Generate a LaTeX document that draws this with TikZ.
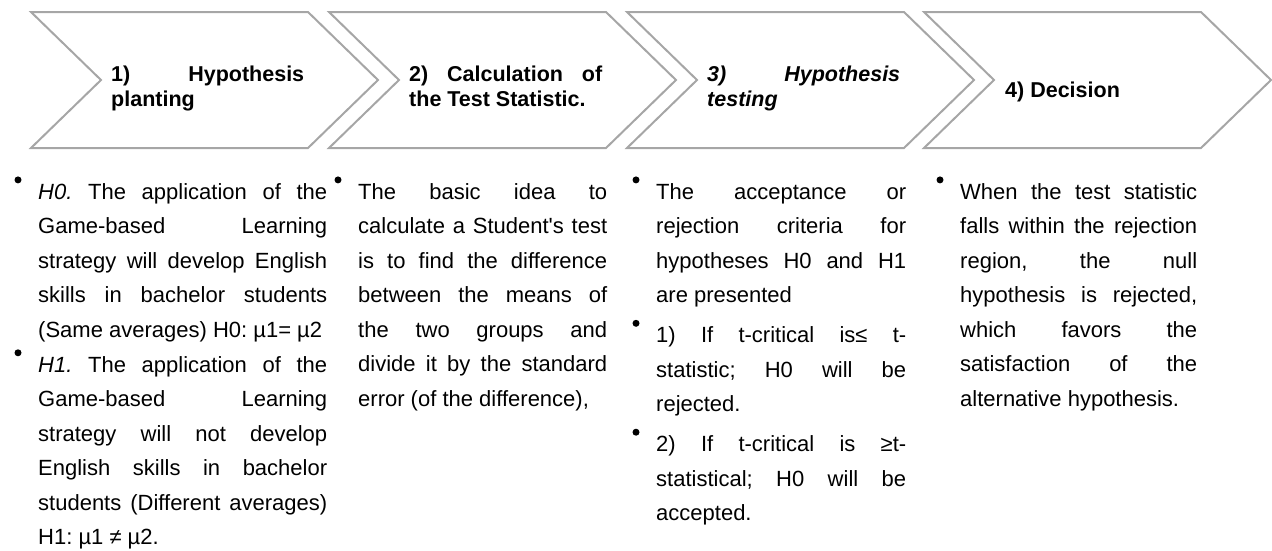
\documentclass[tikz,border=0pt]{standalone}
\usepackage{fontspec}
\setmainfont{Liberation Sans}
\usetikzlibrary{positioning}
\tolerance=10000 \hyphenpenalty=10000 \exhyphenpenalty=10000 \hbadness=10000
\frenchspacing
\definecolor{chevgray}{HTML}{A6A6A6}
\tikzset{
  chev/.style={draw=chevgray, line width=2pt, line join=miter},
  head/.style={anchor=north west, inner sep=0pt, text width=193pt, align=justify,
    font=\fontsize{21.5}{25}\selectfont\bfseries},
  body/.style={anchor=north west, inner sep=0pt, text width=#1, align=justify,
    font=\fontsize{22}{34.5}\selectfont},
  body/.default=250pt,
  dot/.style={circle, fill=black, inner sep=0pt, minimum size=7pt},
}
\begin{document}
\begin{tikzpicture}[x=1pt, y=-1pt]
    \useasboundingbox (0,0) rectangle (1272,550);
    % chevrons
    \foreach \l in {31,329,627,924}
        {
            \draw[chev] (\l,12)--++(277,0)--++(70,68)--++(-70,68)--++(-277,0)--++(70,-68)--cycle;
        }
    % step titles
    \node[head] (h1) at (111,63.5) {\strut 1) Hypothesis\linebreak planting\strut};
    \node[head] (h2) at (409,63.5) {\strut 2) Calculation of\linebreak the Test Statistic.\strut};
    \node[head] (h3) at (707,63.5) {\itshape\strut 3) Hypothesis\linebreak testing\strut};
    \node[head] (h4) at (1005,79.5) {\strut 4) Decision\strut};
    % column 1
    \node[body=289pt] (c1a) at (38,174.9) {\strut\textit{H0.} The application of the\linebreak Game-based Learning\linebreak strategy will develop English\linebreak skills in bachelor students\linebreak (Same averages) H0: µ1= µ2\strut};
    \node[body=289pt, below=0pt of c1a] (c1b) {\strut\textit{H1.} The application of the\linebreak Game-based Learning\linebreak strategy will not develop\linebreak English skills in bachelor\linebreak students (Different averages)\linebreak H1: µ1 ≠ µ2.\strut};
    % column 2
    \node[body=249pt] (c2) at (358,174.9) {\strut The basic idea to\linebreak calculate a Student\textquotesingle s test\linebreak is to find the difference\linebreak between the means of\linebreak the two groups and\linebreak divide it by the standard\linebreak error (of the difference),\strut};
    % column 3
    \node[body] (c3a) at (656,174.9) {\strut The acceptance or\linebreak rejection criteria for\linebreak hypotheses H0 and H1\linebreak are presented\strut};
    \node[body, below=5pt of c3a] (c3b) {\strut 1) If t-critical is≤ t-\linebreak statistic; H0 will be\linebreak rejected.\strut};
    \node[body, below=5pt of c3b] (c3c) {\strut 2) If t-critical is ≥t-\linebreak statistical; H0 will be\linebreak accepted.\strut};
    % column 4
    \node[body=237pt] (c4) at (960,174.9) {\strut When the test statistic\linebreak falls within the rejection\linebreak region, the null\linebreak hypothesis is rejected,\linebreak which favors the\linebreak satisfaction of the\linebreak alternative hypothesis.\strut};
    % bullets
    \foreach \t in {c1a,c1b,c2,c3a,c3b,c3c,c4}
        {
            \node[dot] (d-\t) at ([shift={(-20,5)}]\t.north west) {};
        }
\end{tikzpicture}
\end{document}
